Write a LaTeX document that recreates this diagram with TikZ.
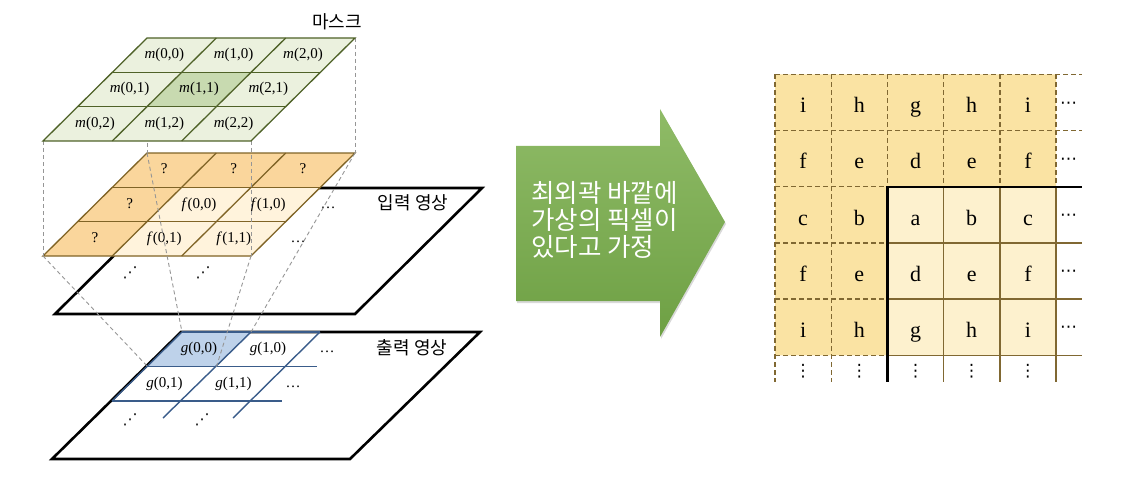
\documentclass[tikz,border=0pt]{standalone}
\usepackage{fontspec}
\setmainfont{Liberation Serif}
\newfontfamily\kr{Noto Sans CJK KR}
\newfontfamily\dv{DejaVu Sans}
\usetikzlibrary{shadows}
\definecolor{maskline}{RGB}{79,98,40}
\definecolor{maskfill}{RGB}{235,241,222}
\definecolor{maskmid}{RGB}{200,218,176}
\definecolor{inline}{RGB}{128,100,38}
\definecolor{ghostfill}{RGB}{250,214,156}
\definecolor{realfill}{RGB}{255,243,220}
\definecolor{outblue}{RGB}{58,92,138}
\definecolor{outfill}{RGB}{190,210,234}
\definecolor{padline}{RGB}{128,104,50}
\definecolor{paddark}{RGB}{250,227,163}
\definecolor{padlight}{RGB}{253,241,206}
\definecolor{arrowtop}{RGB}{143,187,103}
\definecolor{arrowbot}{RGB}{110,160,68}

\begin{document}
\begin{tikzpicture}[x=1pt,y=1pt]
\tikzstyle{every node}+=[inner sep=0pt]
\tikzstyle{lbl}=[font=\fontsize{15}{18}\selectfont, text height=10.5pt, text depth=3.5pt]
\tikzstyle{cell}=[font=\fontsize{22}{26}\selectfont, anchor=base]
\tikzstyle{more}=[font=\dv\fontsize{17}{20}\selectfont]
\tikzstyle{diag}=[font=\dv\fontsize{15}{18}\selectfont]
\tikzstyle{kor}=[font=\kr\fontsize{18}{21}\selectfont]
\tikzstyle{proj}=[color={rgb,255:red,150;green,150;blue,150}, line width=0.9pt, dash pattern=on 4pt off 3pt]
\tikzstyle{plane}=[black, line width=2.6pt, fill=white]
\tikzstyle{padsolid}=[padline, line width=1.4pt]
\tikzstyle{paddash}=[padline, line width=1.4pt, dash pattern=on 5pt off 3pt]
\useasboundingbox (0,0) rectangle (1124,-492);
% output image
\draw [plane] (181,-332) -- (480,-332) -- (350,-459) -- (52,-459) -- cycle;
\fill [outfill] (182,-332) -- (251,-332) -- (216.5,-366.5) -- (147.5,-366.5) -- cycle;
\draw [outblue, line width=1.4pt] (182,-332) -- (320,-332);
\draw [outblue, line width=1.4pt] (147.5,-366.5) -- (317,-366.5);
\draw [outblue, line width=1.4pt] (112,-401) -- (282,-401);
\draw [outblue, line width=1.4pt] (182,-332) -- (112,-401);
\draw [outblue, line width=1.4pt] (251,-332) -- (163,-418);
\draw [outblue, line width=1.4pt] (320,-332) -- (233,-418);
\draw (199,-349.3) node [lbl] (g00) {\textit{g}(0,0)};
\draw (268,-349.3) node [lbl] (g10) {\textit{g}(1,0)};
\draw (327,-349.3) node [lbl] (gdots0) {\ldots};
\draw (164.5,-384) node [lbl] (g01) {\textit{g}(0,1)};
\draw (233.5,-384) node [lbl] (g11) {\textit{g}(1,1)};
\draw (293,-384) node [lbl] (gdots1) {\ldots};
\draw (130,-420) node [diag] (gdiag0) {⋰};
\draw (202,-420) node [diag] (gdiag1) {⋰};
\draw (412,-348) node [kor] (outname) {출력 영상};
% input image
\draw [plane] (182,-188) -- (482,-188) -- (355,-314) -- (55,-314) -- cycle;
\fill [ghostfill] (147,-153) -- (355,-153) -- (251,-256) -- (43,-256) -- cycle;
\fill [realfill] (181.7,-187.3) -- (320.3,-187.3) -- (251,-256) -- (112.3,-256) -- cycle;
\draw [inline, line width=1.3pt] (147,-153) -- (355,-153) -- (251,-256) -- (43,-256) -- cycle;
\draw [inline, line width=1.3pt] (112.3,-187.3) -- (320.3,-187.3);
\draw [inline, line width=1.3pt] (77.7,-221.7) -- (285.7,-221.7);
\draw [inline, line width=1.3pt] (216.3,-153) -- (112.3,-256);
\draw [inline, line width=1.3pt] (285.7,-153) -- (181.7,-256);
\draw (164.3,-170.2) node [lbl] (q0) {?};
\draw (233.7,-170.2) node [lbl] (q1) {?};
\draw (303,-170.2) node [lbl] (q2) {?};
\draw (129.7,-204.5) node [lbl] (q3) {?};
\draw (199,-204.5) node [lbl] (f00) {\textit{f}(0,0)};
\draw (268.3,-204.5) node [lbl] (f10) {\textit{f}(1,0)};
\draw (328,-204.5) node [lbl] (fdots0) {\ldots};
\draw (95,-238.8) node [lbl] (q4) {?};
\draw (164.3,-238.8) node [lbl] (f01) {\textit{f}(0,1)};
\draw (233.7,-238.8) node [lbl] (f11) {\textit{f}(1,1)};
\draw (298,-238.8) node [lbl] (fdots1) {\ldots};
\draw (130,-273) node [diag] (fdiag0) {⋰};
\draw (203,-273) node [diag] (fdiag1) {⋰};
\draw (413,-203) node [kor] (inname) {입력 영상};
% corners for the projection lines
\coordinate (mTL) at (147,-38);
\coordinate (mTR) at (355,-38);
\coordinate (mBR) at (251,-141);
\coordinate (mBL) at (43,-141);
\coordinate (iTL) at (147,-153);
\coordinate (iTR) at (355,-153);
\coordinate (iBR) at (251,-256);
\coordinate (iBL) at (43,-256);
\coordinate (oTL) at (182,-332);
\coordinate (oTR) at (251,-332);
\coordinate (oBR) at (216.5,-366.5);
\coordinate (oBL) at (147.5,-366.5);
\draw [proj] (mTL) -- (iTL);
\draw [proj] (mTR) -- (iTR);
\draw [proj] (mBR) -- (iBR);
\draw [proj] (mBL) -- (iBL);
\draw [proj] (iTL) -- (oTL);
\draw [proj] (iTR) -- (oTR);
\draw [proj] (iBR) -- (oBR);
\draw [proj] (iBL) -- (oBL);
% mask
\fill [maskfill] (mTL) -- (mTR) -- (mBR) -- (mBL) -- cycle;
\fill [maskmid] (181.7,-72.3) -- (251,-72.3) -- (216.3,-106.7) -- (147,-106.7) -- cycle;
\draw [maskline, line width=1.3pt] (mTL) -- (mTR) -- (mBR) -- (mBL) -- cycle;
\draw [maskline, line width=1.3pt] (112.3,-72.3) -- (320.3,-72.3);
\draw [maskline, line width=1.3pt] (77.7,-106.7) -- (285.7,-106.7);
\draw [maskline, line width=1.3pt] (216.3,-38) -- (112.3,-141);
\draw [maskline, line width=1.3pt] (285.7,-38) -- (181.7,-141);
\draw (164.3,-55.2) node [lbl] (m00) {\textit{m}(0,0)};
\draw (233.7,-55.2) node [lbl] (m10) {\textit{m}(1,0)};
\draw (303,-55.2) node [lbl] (m20) {\textit{m}(2,0)};
\draw (129.7,-89.5) node [lbl] (m01) {\textit{m}(0,1)};
\draw (199,-89.5) node [lbl] (m11) {\textit{m}(1,1)};
\draw (268.3,-89.5) node [lbl] (m21) {\textit{m}(2,1)};
\draw (95,-123.8) node [lbl] (m02) {\textit{m}(0,2)};
\draw (164.3,-123.8) node [lbl] (m12) {\textit{m}(1,2)};
\draw (233.7,-123.8) node [lbl] (m22) {\textit{m}(2,2)};
\draw (337,-22) node [kor] (maskname) {마스크};
% arrow
\path [top color=arrowtop, bottom color=arrowbot, drop shadow={opacity=0.3, shadow xshift=1pt, shadow yshift=-2pt}]
  (516,-146) -- (660,-146) -- (660,-109) -- (725,-222) -- (660,-337) -- (660,-301) -- (516,-301) -- cycle;
\draw (531,-220) node [anchor=west, align=left, text=white, font=\kr\fontsize{25.5}{27}\selectfont] (note) {최외곽 바깥에\\가상의 픽셀이\\있다고 가정};
% padded image
\fill [paddark] (775,-74.3) -- (1056,-74.3) -- (1056,-186.7) -- (887.4,-186.7) -- (887.4,-355.3) -- (775,-355.3) -- cycle;
\fill [padlight] (887.4,-186.7) rectangle (1056,-355.3);
\draw [paddash] (775,-74.3) -- (1081.7,-74.3);
\draw [paddash] (775,-130.5) -- (1081.7,-130.5);
\draw [paddash] (775,-186.7) -- (887.4,-186.7);
\draw [paddash] (775,-242.9) -- (887.4,-242.9);
\draw [paddash] (775,-299.1) -- (887.4,-299.1);
\draw [paddash] (775,-355.3) -- (887.4,-355.3);
\draw [paddash] (775,-74.3) -- (775,-381.7);
\draw [paddash] (831.2,-74.3) -- (831.2,-381.7);
\draw [paddash] (887.4,-74.3) -- (887.4,-186.7);
\draw [paddash] (943.6,-74.3) -- (943.6,-186.7);
\draw [paddash] (999.8,-74.3) -- (999.8,-186.7);
\draw [paddash] (1056,-74.3) -- (1056,-186.7);
\draw [padsolid] (887.4,-242.9) -- (1081.7,-242.9);
\draw [padsolid] (887.4,-299.1) -- (1081.7,-299.1);
\draw [padsolid] (887.4,-355.3) -- (1081.7,-355.3);
\draw [padsolid] (943.6,-186.7) -- (943.6,-381.7);
\draw [padsolid] (999.8,-186.7) -- (999.8,-381.7);
\draw [padsolid] (1056,-186.7) -- (1056,-381.7);
\draw [black, line width=2.4pt] (887.4,-381.7) -- (887.4,-186.7) -- (1081.7,-186.7);
\draw (803.1,-112.7) node [cell] (p00) {i};
\draw (859.3,-112.7) node [cell] (p10) {h};
\draw (915.5,-112.7) node [cell] (p20) {g};
\draw (971.7,-112.7) node [cell] (p30) {h};
\draw (1027.9,-112.7) node [cell] (p40) {i};
\draw (803.1,-168.9) node [cell] (p01) {f};
\draw (859.3,-168.9) node [cell] (p11) {e};
\draw (915.5,-168.9) node [cell] (p21) {d};
\draw (971.7,-168.9) node [cell] (p31) {e};
\draw (1027.9,-168.9) node [cell] (p41) {f};
\draw (803.1,-225.1) node [cell] (p02) {c};
\draw (859.3,-225.1) node [cell] (p12) {b};
\draw (915.5,-225.1) node [cell] (p22) {a};
\draw (971.7,-225.1) node [cell] (p32) {b};
\draw (1027.9,-225.1) node [cell] (p42) {c};
\draw (803.1,-281.3) node [cell] (p03) {f};
\draw (859.3,-281.3) node [cell] (p13) {e};
\draw (915.5,-281.3) node [cell] (p23) {d};
\draw (971.7,-281.3) node [cell] (p33) {e};
\draw (1027.9,-281.3) node [cell] (p43) {f};
\draw (803.1,-337.5) node [cell] (p04) {i};
\draw (859.3,-337.5) node [cell] (p14) {h};
\draw (915.5,-337.5) node [cell] (p24) {g};
\draw (971.7,-337.5) node [cell] (p34) {h};
\draw (1027.9,-337.5) node [cell] (p44) {i};
\draw (1068.5,-104.9) node [more] (r0) {⋯};
\draw (1068.5,-161.1) node [more] (r1) {⋯};
\draw (1068.5,-217.3) node [more] (r2) {⋯};
\draw (1068.5,-273.5) node [more] (r3) {⋯};
\draw (1068.5,-329.7) node [more] (r4) {⋯};
\draw (803.1,-371) node [more] (c0) {⋮};
\draw (859.3,-371) node [more] (c1) {⋮};
\draw (915.5,-371) node [more] (c2) {⋮};
\draw (971.7,-371) node [more] (c3) {⋮};
\draw (1027.9,-371) node [more] (c4) {⋮};
\end{tikzpicture}
\end{document}
